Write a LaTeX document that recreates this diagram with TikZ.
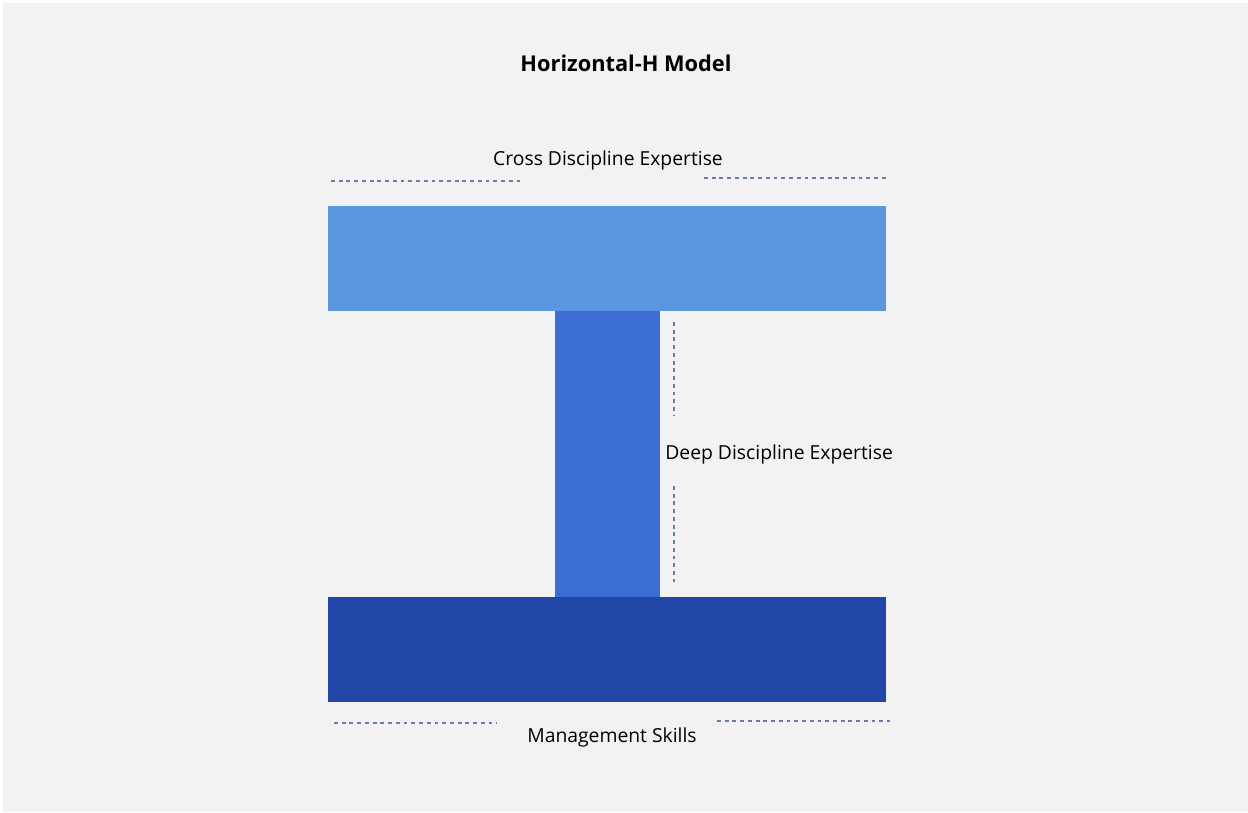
\documentclass[tikz,border=0pt]{standalone}
\usepackage{fontspec}
\setmainfont{Open Sans}
\usetikzlibrary{positioning}
\definecolor{bgcol}{HTML}{F2F2F2}
\definecolor{topcol}{HTML}{5B96E1}
\definecolor{stemcol}{HTML}{3B6DD3}
\definecolor{basecol}{HTML}{2347A8}
\definecolor{dashcol}{HTML}{6A7BAE}
\tikzset{
  guide/.style={draw=dashcol, line width=0.6pt, dash pattern=on 2.2pt off 2.2pt},
  lbl/.style={font=\fontsize{11}{13}\selectfont, text=black, inner sep=0pt}
}
\begin{document}
\begin{tikzpicture}[x=0.02cm, y=-0.02cm]
  %Draw background
  \fill[white] (0,0) rectangle (1248,812);
  \fill[bgcol] (3,3) rectangle (1248,812);

  %Draw title
  \node[lbl, font=\fontsize{12.4}{14}\bfseries\selectfont] (title) at (626,63) {Horizontal-H Model};

  %Draw the H
  \fill[topcol] (328,206) rectangle (886,311);   %Draw upper bar
  \fill[stemcol] (555,311) rectangle (660,597);  %Draw stem
  \fill[basecol] (328,597) rectangle (886,702);  %Draw lower bar

  %Draw upper annotation
  \node[lbl] (cross) at (608,160) {Cross Discipline Expertise};
  \draw[guide] (331,181) -- (523,181);
  \draw[guide] (704,178) -- (886,178);

  %Draw stem annotation
  \node[lbl, anchor=west] (deep) at (665,454) {Deep Discipline Expertise};
  \draw[guide] (674,322) -- (674,415);
  \draw[guide] (674,486) -- (674,582);

  %Draw lower annotation
  \node[lbl] (mgmt) at (612,737) {Management Skills};
  \draw[guide] (334,723) -- (497,723);
  \draw[guide] (717,721) -- (890,721);
\end{tikzpicture}
\end{document}
